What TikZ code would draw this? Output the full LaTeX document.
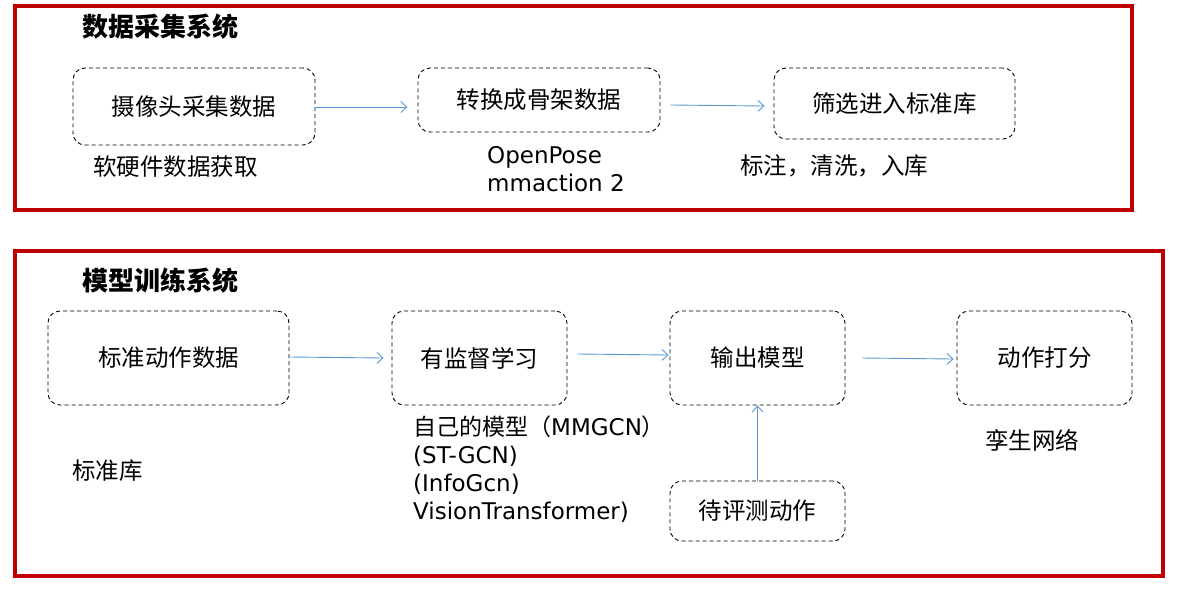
\documentclass[tikz,border=0pt]{standalone}
\usepackage{fontspec}
\setmainfont{DejaVu Sans}
\newfontfamily\cjk{Noto Sans CJK SC}
\usetikzlibrary{arrows.meta,calc}
\definecolor{framered}{HTML}{C00000}
\definecolor{arrowblue}{HTML}{5B9BD5}
\tikzset{
  frame/.style={draw=framered,line width=3.5pt},
  title/.style={anchor=west,inner sep=0pt,font=\cjk\bfseries\fontsize{26}{28}\selectfont},
  stepbox/.style={draw=black,line width=0.9pt,dash pattern=on 4pt off 3pt,rounded corners=12pt,
    inner sep=0pt,font=\cjk\fontsize{23.5}{28}\selectfont},
  lbl/.style={anchor=west,inner sep=0pt,align=left,font=\fontsize{23}{28}\selectfont},
  cjklbl/.style={anchor=west,inner sep=0pt,align=left,font=\cjk\fontsize{23.5}{28}\selectfont},
  arr/.style={draw=arrowblue,line width=0.9pt,-{Straight Barb[length=6pt,width=11pt]}}
}
\begin{document}
\begin{tikzpicture}[x=1pt,y=-1pt]
\useasboundingbox (0,0) rectangle (1193,592);
\fill[white] (0,0) rectangle (1193,592);
% frames
\draw[frame] (15,6) rectangle (1132,210);
\draw[frame] (15,251) rectangle (1163,576);
% titles
\node[title] (t1) at (82,27) {数据采集系统};
\node[title] (t2) at (82,281) {模型训练系统};
% top boxes
\node[stepbox,minimum width=242pt,minimum height=77pt] (b1) at (194,106.5) {摄像头采集数据};
\node[stepbox,minimum width=242pt,minimum height=64pt] (b2) at (539,100) {转换成骨架数据};
\node[stepbox,minimum width=241pt,minimum height=71pt] (b3) at (894.5,103.5) {筛选进入标准库};
% top labels
\node[cjklbl] (l1) at (93,167) {软硬件数据获取};
\node[lbl] (l2) at (487,169) {OpenPose\\mmaction 2};
\node[cjklbl] (l3) at (740,166) {标注，清洗，入库};
% bottom boxes
\node[stepbox,minimum width=241pt,minimum height=94pt] (ba) at (168.5,358) {标准动作数据};
\node[stepbox,minimum width=175pt,minimum height=94pt] (bb) at (479.5,358) {有监督学习};
\node[stepbox,minimum width=175pt,minimum height=94pt] (bc) at (757.5,358) {输出模型};
\node[stepbox,minimum width=175pt,minimum height=94pt] (bd) at (1044.5,358) {动作打分};
\node[stepbox,minimum width=175pt,minimum height=60pt] (be) at (757.5,511) {待评测动作};
% bottom labels
\node[cjklbl] (l4) at (72,471) {标准库};
\node[cjklbl] (l5) at (985,440) {孪生网络};
\node[lbl] (l6) at (413,469) {{\cjk 自己的模型（}MMGCN{\cjk ）}\\(ST-GCN)\\(InfoGcn)\\VisionTransformer)};
% arrows
\draw[arr] ([yshift=-0.5pt]b1.east) -- ([xshift=-10pt,yshift=-7pt]b2.west);
\draw[arr] ([xshift=10pt,yshift=-5pt]b2.east) -- ([xshift=-9pt,yshift=-2.5pt]b3.west);
\draw[arr] ([xshift=1pt,yshift=1pt]ba.east) -- ([xshift=-8pt]bb.west);
\draw[arr] ([xshift=10pt,yshift=4pt]bb.east) -- ([xshift=-1pt,yshift=3pt]bc.west);
\draw[arr] ([xshift=17pt]bc.east) -- ([xshift=-3pt,yshift=-1pt]bd.west);
\draw[arr] (be.north) -- (bc.south);
\end{tikzpicture}
\end{document}
